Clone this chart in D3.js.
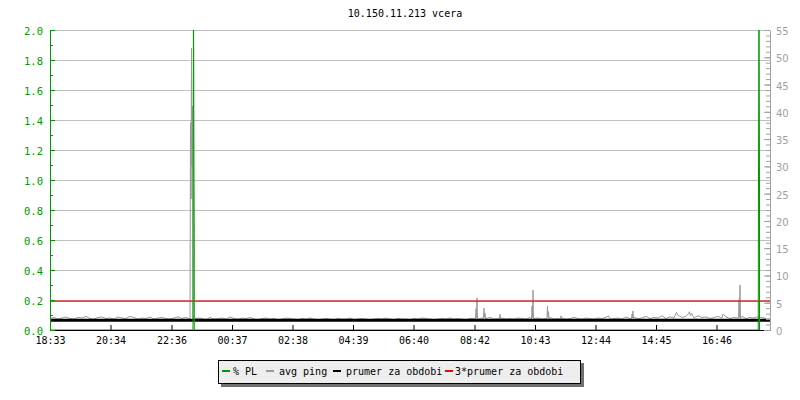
<!DOCTYPE html>
<html>
<head>
<meta charset="utf-8">
<script src="https://cdn.jsdelivr.net/npm/d3@7"></script>
<style>
  body { margin: 0; background: #fff; }
  svg { display: block; font-family: 'DejaVu Sans Mono', monospace; font-size: 10px; }
</style>
</head>
<body>
<svg id="chart" width="800" height="400"></svg>
<script>
const title = '10.150.11.213 vcera';
const startTime = new Date(2000, 0, 1, 18, 33);
const spanMinutes = 1440;
const timeLabels = ['18:33', '20:34', '22:36', '00:37', '02:38', '04:39',
  '06:40', '08:42', '10:43', '12:44', '14:45', '16:46'];
const plTicks = [0, 0.2, 0.4, 0.6, 0.8, 1.0, 1.2, 1.4, 1.6, 1.8, 2.0];
const plMinorTicks = [0.1, 0.3, 0.5, 0.7, 0.9, 1.1, 1.3, 1.5, 1.7, 1.9];
const pingTicks = [0, 5, 10, 15, 20, 25, 30, 35, 40, 45, 50, 55];

// prumer za obdobi (ms)
const avgPing = 1.77;

// avg ping, one reading every 8 minutes from 18:33
const pingBase = [
  2.1, 2.3, 2.0, 2.2, 2.4, 2.1, 2.0, 2.3, 2.2, 2.5, 2.1, 2.0, 2.3, 2.4, 2.1, 2.2, 2.0, 2.4,
  2.2, 2.1, 2.5, 2.3, 2.0, 2.2, 2.1, 2.4, 2.0, 2.2, 2.3, 2.1, 2.0, 2.2, 2.4, 2.1, 2.3, 2.0,
  2.0, 2.2, 2.1, 1.9, 2.3, 2.0, 2.1, 2.2, 2.0, 2.4, 2.1, 2.0, 2.2, 2.1, 2.3, 2.0, 1.9, 2.1, 2.2, 2.0,
  2.1, 1.9, 2.0, 2.2, 2.1, 2.0, 1.9, 2.1, 2.0, 2.2, 2.0, 1.9, 2.0, 2.1, 2.0, 1.9, 2.1, 2.0, 2.0, 2.2,
  1.9, 2.0, 2.1, 2.0, 1.9, 2.0, 2.1, 2.0, 2.2, 2.0, 1.9, 2.1, 2.0, 2.0, 1.9, 2.1, 2.0, 2.2, 2.1, 2.0,
  1.9, 2.0, 2.1, 2.0, 2.2, 2.0, 2.1, 2.0, 1.9, 2.1,
  2.1, 2.0, 2.2, 2.1, 2.3, 2.0, 2.1, 2.2, 2.0, 2.1, 2.0, 2.2, 2.1, 2.0, 2.3, 2.1, 2.2, 2.0, 2.1, 2.3,
  2.0, 2.1, 2.2, 2.0, 2.1, 2.3, 2.1, 2.0, 2.2, 2.1, 2.0, 2.2, 2.1, 2.3, 2.0, 2.1, 2.2, 2.0, 2.4, 2.1,
  2.3, 2.1, 2.2, 2.5, 2.1, 2.3, 2.2, 2.6, 2.1, 2.4, 2.2, 2.7, 2.3, 2.5, 2.8, 2.2, 2.6, 2.3, 2.4, 2.1,
  2.3, 2.5, 2.2, 2.4, 2.1, 2.3, 2.2, 2.5, 2.1, 2.3, 2.2, 2.4, 2.3, 2.1
];

// extra readings around the peaks: [minute from 18:33, ms]
const pingSpikes = [
  [281, 38], [282, 24], [283, 51.7], [284, 30], [285, 41], [286, 2.0],
  [851, 2.0], [852, 3.9], [853, 2.2], [854, 5.9], [855, 2.1],
  [867, 2.1], [868, 4.0], [869, 2.3], [870, 3.1], [871, 2.0],
  [899, 2.0], [900, 2.9], [901, 2.1],
  [963, 2.0], [964, 4.4], [965, 2.2], [966, 7.3], [967, 2.1],
  [994, 2.1], [995, 4.4], [996, 2.3], [997, 3.35], [998, 2.0],
  [1021, 2.0], [1022, 2.6], [1023, 2.1],
  [1117, 2.6],
  [1163, 2.1], [1164, 2.9], [1165, 2.2], [1166, 3.5], [1167, 2.1],
  [1253, 3.2], [1277, 3.0], [1279, 3.35], [1281, 2.6], [1283, 3.1],
  [1346, 2.9],
  [1377, 2.2], [1378, 5.6], [1379, 2.3], [1380, 8.25], [1381, 2.1]
];

// % PL: [minute from 18:33, percent]
const packetLoss = [
  [0, 0], [286, 0], [287, 2.3], [288, 1.0], [288.5, 0.65], [288.5, 0],
  [1416.5, 0], [1417, 1.0], [1418, 2.3], [1419, 1.0], [1419, 0]
];

const legendNames = ['% PL', 'avg ping', 'prumer za obdobi', '3*prumer za obdobi'];
const legendColors = ['#009900', '#999999', '#000000', '#ff0000'];

const plot = { left: 50, right: 770, top: 30, bottom: 330 };
const green = '#009900';
const toDate = m => new Date(+startTime + m * 60000);

const x = d3
  .scaleTime()
  .domain([startTime, toDate(spanMinutes)])
  .range([plot.left, plot.right]);

const yPL = d3.scaleLinear().domain([0, 2]).range([plot.bottom, plot.top]);
const yPing = d3.scaleLinear().domain([0, 55]).range([plot.bottom, plot.top]);

const tickDates = timeLabels.map(l => {
  const [h, m] = l.split(':').map(Number);
  return new Date(2000, 0, h < 18 ? 2 : 1, h, m);
});

const svg = d3.select('#chart');

svg
  .append('text')
  .attr('x', 405)
  .attr('y', 17)
  .attr('text-anchor', 'middle')
  .text(title);

svg
  .append('defs')
  .append('clipPath')
  .attr('id', 'clip')
  .append('rect')
  .attr('x', plot.left)
  .attr('y', plot.top)
  .attr('width', plot.right - plot.left)
  .attr('height', plot.bottom - plot.top);

// grid
svg
  .append('g')
  .selectAll('line')
  .data(plTicks.filter(d => d > 0))
  .enter()
  .append('line')
  .attr('x1', plot.left)
  .attr('x2', plot.right)
  .attr('y1', d => Math.round(yPL(d)) + 0.5)
  .attr('y2', d => Math.round(yPL(d)) + 0.5)
  .attr('stroke', '#c0c0c0');

const pingData = pingBase
  .map((v, i) => [i * 8, v])
  .concat(pingSpikes)
  .sort((a, b) => a[0] - b[0]);

const pingLine = d3
  .line()
  .x(d => x(toDate(d[0])))
  .y(d => yPing(d[1]));

const plLine = d3
  .line()
  .x(d => x(toDate(d[0])))
  .y(d => yPL(d[1]));

const data = svg.append('g').attr('clip-path', 'url(#clip)');

data
  .append('path')
  .datum(pingData)
  .attr('d', pingLine)
  .attr('fill', 'none')
  .attr('stroke', '#999999')
  .attr('stroke-width', 1);

data
  .append('line')
  .attr('x1', plot.left)
  .attr('x2', plot.right)
  .attr('y1', yPing(avgPing * 3))
  .attr('y2', yPing(avgPing * 3))
  .attr('stroke', '#ff0000')
  .attr('stroke-width', 1.3);

data
  .append('line')
  .attr('x1', plot.left)
  .attr('x2', plot.right)
  .attr('y1', yPing(avgPing))
  .attr('y2', yPing(avgPing))
  .attr('stroke', '#000')
  .attr('stroke-width', 3);

data
  .append('path')
  .datum(packetLoss)
  .attr('d', plLine)
  .attr('fill', 'none')
  .attr('stroke', green)
  .attr('stroke-width', 1);

// x axis
svg
  .append('g')
  .attr('transform', `translate(0,${plot.bottom})`)
  .call(
    d3
      .axisBottom(x)
      .tickValues(tickDates)
      .tickFormat(d3.timeFormat('%H:%M'))
      .tickSizeInner(-5)
      .tickSizeOuter(0)
      .tickPadding(7)
  )
  .call(g => g.selectAll('text').attr('font-family', 'DejaVu Sans Mono').attr('font-size', 10));

// left axis (% PL)
svg
  .append('g')
  .attr('transform', `translate(${plot.left},0)`)
  .attr('color', green)
  .call(
    d3
      .axisLeft(yPL)
      .tickValues(plTicks)
      .tickFormat(d3.format('.1f'))
      .tickSizeInner(-5)
      .tickSizeOuter(0)
      .tickPadding(7)
  )
  .call(g =>
    g
      .selectAll('text')
      .attr('dy', '0.45em')
      .attr('font-family', 'DejaVu Sans Mono')
      .attr('font-size', 10.5)
  );

svg
  .append('g')
  .attr('transform', `translate(${plot.left},0)`)
  .attr('color', green)
  .call(d3.axisLeft(yPL).tickValues(plMinorTicks).tickSize(-3).tickFormat(''))
  .call(g => g.select('.domain').remove());

// right axis (ms)
svg
  .append('g')
  .attr('transform', `translate(${plot.right},0)`)
  .attr('color', '#a0a0a0')
  .call(
    d3
      .axisRight(yPing)
      .tickValues(pingTicks)
      .tickSizeInner(-6)
      .tickSizeOuter(0)
      .tickPadding(6)
  )
  .call(g =>
    g
      .selectAll('text')
      .attr('dy', '0.45em')
      .attr('font-family', 'DejaVu Sans')
      .attr('font-size', 10)
  );

svg
  .append('g')
  .attr('transform', `translate(${plot.right},0)`)
  .attr('color', '#a0a0a0')
  .call(d3.axisRight(yPing).tickValues(d3.range(0, 56)).tickSize(-4).tickFormat(''))
  .call(g => g.select('.domain').remove());

// legend
const legend = svg.append('g');
legend
  .append('rect')
  .attr('x', 221)
  .attr('y', 363)
  .attr('width', 363)
  .attr('height', 24)
  .attr('fill', '#707070');
legend
  .append('rect')
  .attr('x', 218.5)
  .attr('y', 360.5)
  .attr('width', 362)
  .attr('height', 23)
  .attr('fill', '#eeeeee')
  .attr('stroke', '#000');

const legendX = [222, 266, 333, 445];
const items = legend
  .selectAll('.item')
  .data(legendNames)
  .enter()
  .append('g')
  .attr('class', 'item')
  .attr('transform', (d, i) => `translate(${legendX[i]},0)`);

items
  .append('rect')
  .attr('x', 0)
  .attr('y', 370)
  .attr('width', 8)
  .attr('height', 2)
  .attr('fill', (d, i) => legendColors[i]);

items
  .append('text')
  .attr('x', (d, i) => (i === 0 ? 11 : i === 3 ? 10 : 13))
  .attr('y', 374.5)
  .text(d => d);
</script>
</body>
</html>
